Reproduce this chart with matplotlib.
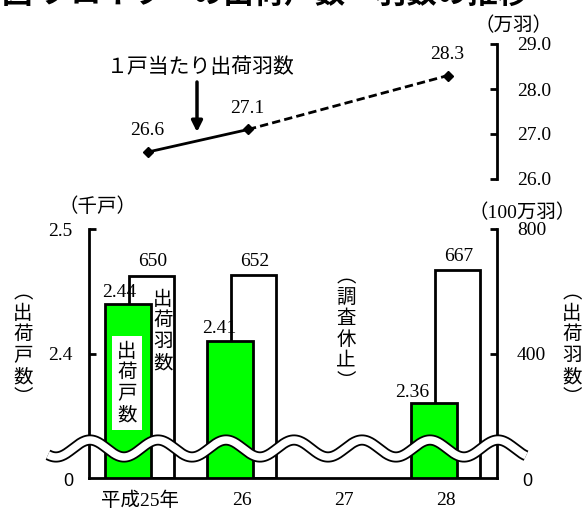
import matplotlib
matplotlib.use('Agg')
import matplotlib.pyplot as plt
import numpy as np
from matplotlib.transforms import Bbox, TransformedBbox

plt.rcParams['font.family'] = ['Liberation Serif', 'Noto Sans CJK JP']

# ---- data ----
years = ['平成25年', '26', '27', '28']
households = [2.44, 2.41, None, 2.36]      # 出荷戸数 (千戸)
birds = [650, 652, None, 667]              # 出荷羽数 (100万羽)
per_household = [26.6, 27.1, None, 28.3]   # 1戸当たり出荷羽数 (万羽)
left_ticks = [2.4, 2.5]
right_ticks = [400, 800]
top_ticks = [26.0, 27.0, 28.0, 29.0]

W, H = 584, 508
fig = plt.figure(figsize=(W / 100, H / 100), dpi=100)


def fx(x):
    return x / W


def fy(y):
    return 1 - y / H


FS = 14
LW = 2

# title (cropped at top in the reference; only a thin strip shows)
title = fig.text(fx(2), fy(3), '図 ブロイラーの出荷戸数・羽数の推移',
                 fontsize=22, fontweight='bold', ha='left', va='baseline')
title.set_clip_box(TransformedBbox(Bbox([[0, fy(7)], [1, 1]]),
                                   fig.transFigure))
title.set_clip_on(True)

# ---------------- bottom chart ----------------
ax_r = fig.add_axes([fx(89), fy(478), (497 - 89) / W, (478 - 229) / H])
ax_l = ax_r.twinx()
ax_l.yaxis.tick_left()
ax_r.yaxis.tick_right()

x = np.arange(len(years))
vb = [i for i, v in enumerate(birds) if v is not None]
vh = [i for i, v in enumerate(households) if v is not None]
base_l = 2.3

ax_r.bar(x[vb] + 0.115, [birds[i] for i in vb], width=0.44, color='white',
         edgecolor='black', linewidth=LW, zorder=2)
ax_l.bar(x[vh] - 0.12, [households[i] - base_l for i in vh], bottom=base_l,
         width=0.45, color='#00ff00', edgecolor='black', linewidth=LW, zorder=2)

ax_r.set_xlim(-0.5, 3.5)
ax_r.set_ylim(0, 800)
ax_l.set_ylim(base_l, 2.5)

for s in ['top', 'left']:
    ax_r.spines[s].set_visible(False)
for s in ['top', 'right', 'bottom']:
    ax_l.spines[s].set_visible(False)
ax_r.spines['right'].set_linewidth(LW)
ax_r.spines['bottom'].set_linewidth(LW)
ax_l.spines['left'].set_linewidth(LW)

ax_r.set_yticks(right_ticks, [f'{v:d}' for v in right_ticks])
ax_l.set_yticks(left_ticks, [f'{v:.1f}' for v in left_ticks])
ax_r.tick_params(axis='y', direction='in', length=5, width=LW, pad=14.4,
                 labelsize=FS)
ax_l.tick_params(axis='y', direction='in', length=5, width=LW, pad=12,
                 labelsize=FS)
ax_r.set_xticks(x, years)
ax_r.tick_params(axis='x', length=0, pad=10, labelsize=FS)

# zero labels of the broken axes
ax_l.annotate('0', xy=(0, base_l), xycoords=('axes fraction', 'data'),
              xytext=(-21, -4), textcoords='offset pixels', ha='center',
              va='center', family='Liberation Sans', fontsize=13)
ax_r.annotate('0', xy=(1, 0), xycoords=('axes fraction', 'data'),
              xytext=(30, -3), textcoords='offset pixels', ha='center',
              va='center', family='Liberation Sans', fontsize=13)

# value labels
for i in vb:
    ax_r.annotate(f'{birds[i]}', xy=(x[i] + 0.115, birds[i]),
                  xytext=(1, 14), textcoords='offset pixels', ha='center',
                  va='center', fontsize=FS, zorder=20)
h_off = {0: (-9, 11), 1: (-11, 13), 3: (-22, 11)}
for i in vh:
    ax_l.annotate(f'{households[i]:.2f}', xy=(x[i] - 0.12, households[i]),
                  xytext=h_off[i], textcoords='offset pixels', ha='center',
                  va='center', fontsize=FS, zorder=20)

# wavy break band
wx = np.linspace(48, 526, 600)
wy = 448.5 - 8.5 * np.cos(2 * np.pi * (wx - 90) / 68)
ax_l.plot(fx(wx), fy(wy), color='black', lw=8, solid_capstyle='butt',
          transform=fig.transFigure, clip_on=False, zorder=10)
ax_l.plot(fx(wx), fy(wy), color='white', lw=5.4, solid_capstyle='butt',
          transform=fig.transFigure, clip_on=False, zorder=11)


def vtext(cx, cy, s, bbox=None):
    fig.text(fx(cx), fy(cy), '\n'.join(s), ha='center', va='center',
             fontsize=FS, linespacing=1.0, family='Noto Sans CJK JP',
             bbox=bbox, zorder=30)


vtext(23, 345, '︵出荷戸数︶')
vtext(572, 345, '︵出荷羽数︶')
vtext(346, 329, '︵調査休止︶')
vtext(163, 331, '出荷羽数')
vtext(127, 383, '出荷戸数',
      bbox=dict(boxstyle='square,pad=0.25', fc='white', ec='none'))

fig.text(fx(97), fy(207), '（千戸）', ha='center', va='center', fontsize=FS)
fig.text(fx(522), fy(213), '（100万羽）', ha='center', va='center', fontsize=FS)
fig.text(fx(513), fy(26), '（万羽）', ha='center', va='center', fontsize=FS)

# ---------------- top line chart ----------------
ax_t = fig.add_axes([fx(89), fy(179), (497 - 89) / W, (179 - 44) / H])
ax_t.set_xlim(-0.59, 3.49)
ax_t.set_ylim(26, 29)
ax_t.patch.set_visible(False)
for s in ['top', 'left', 'bottom']:
    ax_t.spines[s].set_visible(False)
ax_t.spines['right'].set_linewidth(LW)
ax_t.yaxis.tick_right()
ax_t.set_xticks([])
ax_t.set_yticks(top_ticks, [f'{v:.1f}' for v in top_ticks])
ax_t.tick_params(axis='y', direction='in', length=5, width=LW, pad=14.4,
                 labelsize=FS)

vp = [i for i, v in enumerate(per_household) if v is not None]
for a, b in zip(vp[:-1], vp[1:]):
    ls = '-' if b - a == 1 else '--'
    line, = ax_t.plot([a, b], [per_household[a], per_household[b]],
                      color='black', lw=2, linestyle=ls)
    if ls == '--':
        line.set_dashes((3, 1.5))
ax_t.plot(vp, [per_household[i] for i in vp], 'D', color='black',
          markersize=5)
for i in vp:
    ax_t.annotate(f'{per_household[i]:.1f}', xy=(i, per_household[i]),
                  xytext=(-1, 21), textcoords='offset pixels', ha='center',
                  va='center', fontsize=FS)

fig.text(fx(201), fy(68), '１戸当たり出荷羽数', ha='center', va='center',
         fontsize=15)
ax_t.annotate('', xy=(197, H - 132), xytext=(197, H - 82),
              xycoords='figure pixels', textcoords='figure pixels',
              arrowprops=dict(arrowstyle='-|>', lw=2.5, color='black',
                              mutation_scale=16, shrinkA=0, shrinkB=0))

fig.savefig('out.png', dpi=100)
